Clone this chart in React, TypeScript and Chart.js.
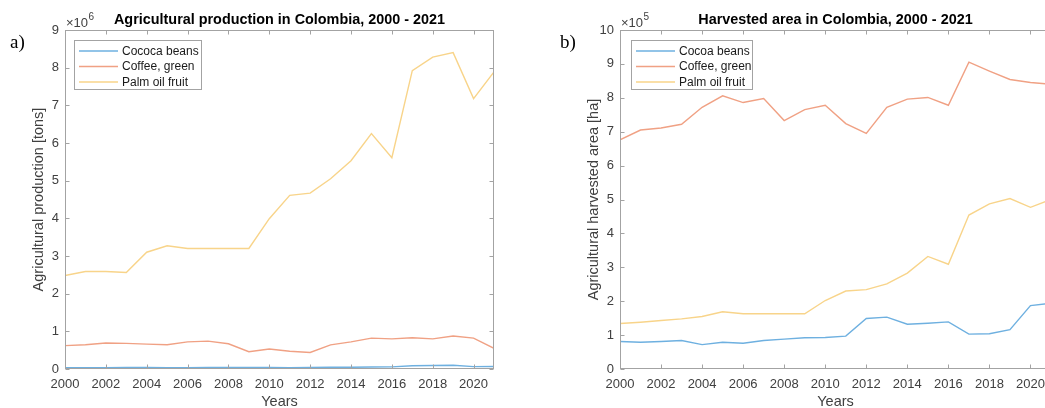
import React, { useEffect, useRef } from "react";
import { Chart, registerables } from "chart.js";

Chart.register(...registerables);

// Years shared by both panels
const years = [
  2000, 2001, 2002, 2003, 2004, 2005, 2006, 2007, 2008, 2009, 2010,
  2011, 2012, 2013, 2014, 2015, 2016, 2017, 2018, 2019, 2020, 2021,
];
const xTickYears = [2000, 2002, 2004, 2006, 2008, 2010, 2012, 2014, 2016, 2018, 2020];

// Panel a) production, tons
const prodCocoa = [
  37e3, 37e3, 36e3, 40e3, 41e3, 37e3, 36e3, 40e3, 40e3, 41e3, 40e3,
  36e3, 40e3, 46e3, 47e3, 54e3, 57e3, 87e3, 94e3, 99e3, 63e3, 65e3,
];
const prodCoffee = [
  0.62e6, 0.645e6, 0.69e6, 0.68e6, 0.66e6, 0.645e6, 0.72e6, 0.74e6, 0.67e6, 0.46e6, 0.53e6,
  0.47e6, 0.44e6, 0.64e6, 0.72e6, 0.82e6, 0.8e6, 0.83e6, 0.8e6, 0.875e6, 0.82e6, 0.55e6,
];
const prodPalm = [
  2.48e6, 2.59e6, 2.59e6, 2.56e6, 3.1e6, 3.27e6, 3.2e6, 3.2e6, 3.2e6, 3.2e6, 3.99e6,
  4.61e6, 4.67e6, 5.05e6, 5.53e6, 6.25e6, 5.61e6, 7.92e6, 8.28e6, 8.4e6, 7.18e6, 7.89e6,
];

// Panel b) harvested area, ha
const areaCocoa = [
  0.81e5, 0.79e5, 0.81e5, 0.84e5, 0.72e5, 0.79e5, 0.76e5, 0.84e5, 0.88e5, 0.92e5, 0.93e5,
  0.97e5, 1.49e5, 1.53e5, 1.32e5, 1.35e5, 1.39e5, 1.03e5, 1.04e5, 1.16e5, 1.87e5, 1.94e5,
];
const areaCoffee = [
  6.76e5, 7.05e5, 7.11e5, 7.22e5, 7.72e5, 8.06e5, 7.86e5, 7.98e5, 7.33e5, 7.65e5, 7.78e5,
  7.24e5, 6.95e5, 7.72e5, 7.96e5, 8.01e5, 7.78e5, 9.05e5, 8.79e5, 8.54e5, 8.45e5, 8.4e5,
];
const areaPalm = [
  1.34e5, 1.38e5, 1.43e5, 1.48e5, 1.55e5, 1.69e5, 1.63e5, 1.63e5, 1.63e5, 1.63e5, 2.02e5,
  2.3e5, 2.34e5, 2.51e5, 2.83e5, 3.32e5, 3.09e5, 4.54e5, 4.87e5, 5.03e5, 4.77e5, 5.0e5,
];

const prodLabels = ["Cococa beans", "Coffee, green", "Palm oil fruit"];
const areaLabels = ["Cocoa beans", "Coffee, green", "Palm oil fruit"];
const seriesColors = ["#6eb0e0", "#f0a184", "#f8d48a"];

const SANS = "'Liberation Sans', Arial, Helvetica, sans-serif";
const SERIF = "'Liberation Serif', 'Times New Roman', serif";
const TEXT = "#404040";
const FRAME = "#a3a3a3";

type PanelSpec = {
  left: number;
  width: number;
  yAxisWidth: number;
  padRight: number;
  yMax: number;
  yStep: number;
  exponent: number;
  title: string;
  yTitle: string;
  letter: string;
  letterX: number;
  legendLabels: string[];
  legendBox: { x: number; w: number };
  series: number[][];
};

const toPoints = (vals: number[]) => years.map((yr, i) => ({ x: yr, y: vals[i] }));

// MATLAB-like axes decorations: box, inward ticks, titles, exponent, legend
const makeFramePlugin = (spec: PanelSpec) => ({
  id: "matlabFrame",
  afterDraw(chart: any) {
    const ctx = chart.ctx as CanvasRenderingContext2D;
    const { left, right, top, bottom } = chart.chartArea;
    const xs = chart.scales.x;
    const ys = chart.scales.y;
    ctx.save();

    // box
    ctx.strokeStyle = FRAME;
    ctx.lineWidth = 1;
    const L = Math.round(left) + 0.5;
    const R = Math.round(right) - 0.5;
    const T = Math.round(top) + 0.5;
    const B = Math.round(bottom) - 0.5;
    ctx.strokeRect(L, T, R - L, B - T);

    // inward ticks
    ctx.beginPath();
    for (const v of xTickYears) {
      const px = Math.round(xs.getPixelForValue(v)) + 0.5;
      ctx.moveTo(px, B);
      ctx.lineTo(px, B - 4);
      ctx.moveTo(px, T);
      ctx.lineTo(px, T + 4);
    }
    for (const t of ys.ticks) {
      const py = Math.round(ys.getPixelForValue(t.value)) + 0.5;
      ctx.moveTo(L, py);
      ctx.lineTo(L + 4, py);
      ctx.moveTo(R, py);
      ctx.lineTo(R - 4, py);
    }
    ctx.stroke();

    // title
    ctx.fillStyle = "#000";
    ctx.font = `bold 14.4px ${SANS}`;
    ctx.textAlign = "center";
    ctx.textBaseline = "middle";
    ctx.fillText(spec.title, (left + right) / 2, 20);

    // exponent marker
    ctx.fillStyle = TEXT;
    ctx.textAlign = "left";
    ctx.textBaseline = "alphabetic";
    ctx.font = `13px ${SANS}`;
    const base = "\u00d710";
    ctx.fillText(base, left + 1, 27);
    const bw = ctx.measureText(base).width;
    ctx.font = `10px ${SANS}`;
    ctx.fillText(String(spec.exponent), left + 1 + bw + 0.5, 20);

    // axis titles
    ctx.font = `14.5px ${SANS}`;
    ctx.textAlign = "center";
    ctx.textBaseline = "middle";
    ctx.fillText("Years", (left + right) / 2, 402);
    ctx.save();
    ctx.translate(left - 26, (top + bottom) / 2);
    ctx.rotate(-Math.PI / 2);
    ctx.fillText(spec.yTitle, 0, 0);
    ctx.restore();

    // panel letter
    ctx.fillStyle = "#000";
    ctx.font = `19px ${SERIF}`;
    ctx.textAlign = "left";
    ctx.textBaseline = "alphabetic";
    ctx.fillText(spec.letter, spec.letterX - spec.left, 48);

    // legend
    const lx = spec.legendBox.x - spec.left;
    const lw = spec.legendBox.w;
    ctx.fillStyle = "#fff";
    ctx.fillRect(lx, 40, lw, 50);
    ctx.strokeStyle = FRAME;
    ctx.lineWidth = 1;
    ctx.strokeRect(lx + 0.5, 40.5, lw - 1, 49);
    ctx.font = `12px ${SANS}`;
    ctx.textBaseline = "middle";
    chart.data.datasets.forEach((ds: any, i: number) => {
      const y = 51 + i * 15.5;
      ctx.strokeStyle = ds.borderColor;
      ctx.lineWidth = 1.4;
      ctx.beginPath();
      ctx.moveTo(lx + 5, y);
      ctx.lineTo(lx + 44, y);
      ctx.stroke();
      ctx.fillStyle = "#1a1a1a";
      ctx.fillText(ds.label, lx + 48, y + 0.5);
    });

    ctx.restore();
  },
});

function Panel({ spec }: { spec: PanelSpec }) {
  const ref = useRef<HTMLCanvasElement | null>(null);

  useEffect(() => {
    if (!ref.current) return;
    const chart = new Chart(ref.current, {
      type: "line",
      data: {
        datasets: spec.series.map((vals, i) => ({
          label: spec.legendLabels[i],
          data: toPoints(vals),
          borderColor: seriesColors[i],
          backgroundColor: seriesColors[i],
          borderWidth: 1.4,
          pointRadius: 0,
          tension: 0,
          fill: false,
        })),
      },
      options: {
        animation: false,
        responsive: false,
        maintainAspectRatio: false,
        layout: { padding: { left: 0, right: spec.padRight, top: 30, bottom: 0 } },
        plugins: {
          legend: { display: false },
          title: { display: false },
          tooltip: { enabled: false },
        },
        scales: {
          x: {
            type: "linear",
            min: 2000,
            max: 2021,
            afterBuildTicks: (s: any) => {
              s.ticks = xTickYears.map((v) => ({ value: v }));
            },
            afterFit: (s: any) => {
              s.height = 39;
            },
            grid: { display: false, drawTicks: false },
            border: { display: false },
            ticks: {
              color: TEXT,
              font: { family: SANS, size: 13 },
              padding: 8,
              maxRotation: 0,
              autoSkip: false,
              callback: (v: any) => String(v),
            },
          },
          y: {
            type: "linear",
            min: 0,
            max: spec.yMax,
            afterFit: (s: any) => {
              s.width = spec.yAxisWidth;
            },
            grid: { display: false, drawTicks: false },
            border: { display: false },
            ticks: {
              stepSize: spec.yStep,
              color: TEXT,
              font: { family: SANS, size: 13 },
              padding: 6,
              callback: (v: any) => String(Math.round(Number(v) / spec.yStep)),
            },
          },
        },
      },
      plugins: [makeFramePlugin(spec)],
    });
    return () => chart.destroy();
  }, [spec]);

  return (
    <canvas
      ref={ref}
      width={spec.width}
      height={408}
      style={{ position: "absolute", left: spec.left, top: 0, width: spec.width, height: 408 }}
    />
  );
}

const panelA: PanelSpec = {
  left: 0,
  width: 520,
  yAxisWidth: 65,
  padRight: 26,
  yMax: 9e6,
  yStep: 1e6,
  exponent: 6,
  title: "Agricultural production in Colombia, 2000 - 2021",
  yTitle: "Agricultural production [tons]",
  letter: "a)",
  letterX: 10,
  legendLabels: prodLabels,
  legendBox: { x: 74, w: 128 },
  series: [prodCocoa, prodCoffee, prodPalm],
};

const panelB: PanelSpec = {
  left: 525,
  width: 540,
  yAxisWidth: 95,
  padRight: 14,
  yMax: 1e6,
  yStep: 1e5,
  exponent: 5,
  title: "Harvested area in Colombia, 2000 - 2021",
  yTitle: "Agricultural harvested area [ha]",
  letter: "b)",
  letterX: 560,
  legendLabels: areaLabels,
  legendBox: { x: 631, w: 122 },
  series: [areaCocoa, areaCoffee, areaPalm],
};

export default function App() {
  return (
    <div
      style={{
        position: "fixed",
        left: 0,
        top: 0,
        width: 1045,
        height: 408,
        overflow: "hidden",
        background: "#fff",
      }}
    >
      <Panel spec={panelA} />
      <Panel spec={panelB} />
    </div>
  );
}
